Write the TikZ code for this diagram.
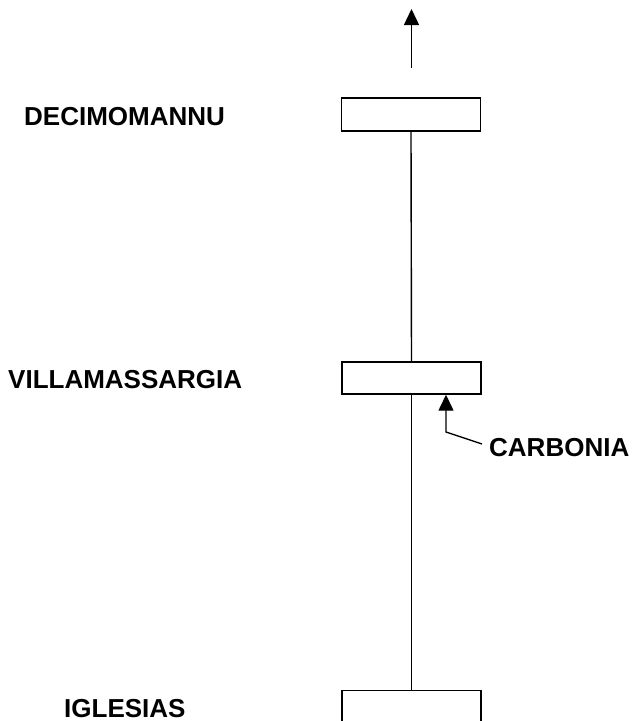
\documentclass[tikz,border=0pt]{standalone}
\usepackage{fontspec}
\setmainfont{Liberation Sans}
\usetikzlibrary{arrows.meta}
\tikzset{
  stationbox/.style={draw, line width=1.4pt, rectangle, inner sep=0pt, minimum width=139pt, minimum height=33pt},
  lbl/.style={font=\fontsize{26}{30}\selectfont\bfseries, anchor=base west, inner sep=0pt},
  track/.style={line width=1.4pt},
  arr/.style={line width=1.4pt, -{Triangle[length=16pt,width=15pt]}}
}
\begin{document}
\begin{tikzpicture}[x=1pt,y=-1pt]
\clip (0,0) rectangle (633,721);
\fill[white] (0,0) rectangle (633,721);
% boxes
\node[stationbox] (db) at (411,114.5) {};
\node[stationbox, minimum height=32pt] (vb) at (411.5,378) {};
\node[stationbox, minimum height=50pt, anchor=north] (ib) at (411.5,690) {};
% labels
\node[lbl] (dl) at (24,125) {DECIMOMANNU};
\node[lbl] (vl) at (8,388) {VILLAMASSARGIA};
\node[lbl] (cl) at (489,456) {CARBONIA};
\node[lbl] (il) at (64,717) {IGLESIAS};
% track
\draw[track] (db.south) -- (vb.north);
\draw[track] (vb.south) -- (ib.north);
% top arrow
\coordinate (upstart) at (411.5,68);
\coordinate (uptip) at (411.5,9);
\draw[arr] (upstart) -- (uptip);
% carbonia branch
\coordinate (cstart) at (482,444);
\coordinate (cbend) at (446,432);
\draw[arr] (cstart) -- (cbend) -- (cbend |- vb.south);
\end{tikzpicture}
\end{document}
